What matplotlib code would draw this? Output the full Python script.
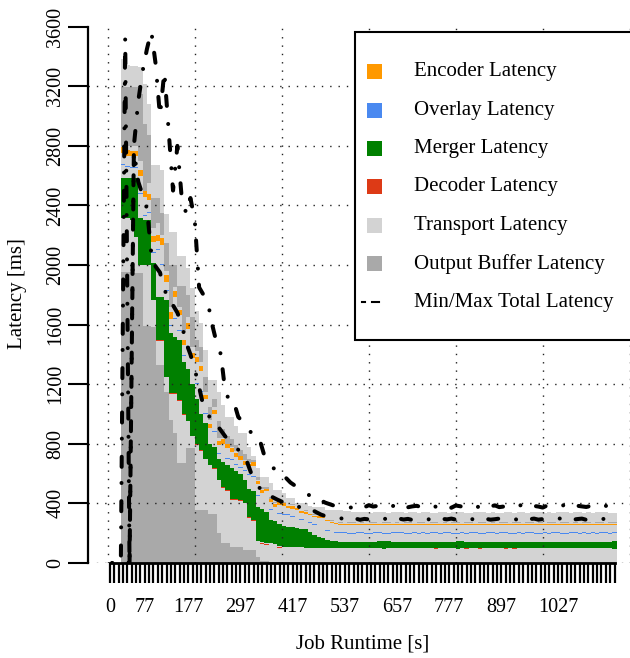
import numpy as np
import matplotlib
matplotlib.use("Agg")
import matplotlib.pyplot as plt
from matplotlib.patches import Rectangle
from matplotlib.lines import Line2D

# ─── Data (ms) per time bucket, stacked bottom → top ─────────────────
# levels are cumulative latency at the start of each stage
buf_lvl = [0, 0, 0, 1955, 1955, 1955, 1950, 1950, 1590, 1590,
           1586, 1329, 1329, 1150, 960, 872, 671, 671, 772, 772,
           356, 356, 356, 330, 330, 201, 134, 134, 109, 109,
           109, 87, 87, 87, 42, 15, 12, 10, 10, 8,
           8, 6, 5, 5, 4, 4, 3, 3, 3, 0,
           0, 0, 0, 0, 0, 0, 0, 0, 0, 0,
           0, 0, 0, 0, 0, 0, 0, 0, 0, 0,
           0, 0, 0, 0, 0, 0, 0, 0, 0, 0,
           0, 0, 0, 0, 0, 0, 0, 0, 0, 0,
           0, 0, 0, 0, 0, 0, 0, 0, 0, 0,
           0, 0, 0, 0, 0, 0, 0, 0, 0, 0,
           0, 0, 0, 0, 0, 0, 0]
dec_lvl = [0, 0, 0, 2310, 2310, 2297, 2185, 1995, 1995, 1995,
           1760, 1492, 1492, 1243, 1136, 1136, 1089, 995, 945, 845,
           795, 755, 695, 655, 630, 555, 505, 485, 425, 425,
           418, 395, 304, 285, 145, 130, 124, 122, 113, 104,
           98, 94, 93, 92, 92, 91, 92, 91, 92, 92,
           91, 92, 91, 92, 92, 91, 92, 92, 91, 92,
           92, 91, 92, 92, 91, 92, 92, 91, 92, 92,
           92, 91, 92, 92, 91, 92, 92, 91, 92, 92,
           91, 92, 92, 91, 92, 92, 91, 92, 92, 91,
           92, 92, 91, 92, 92, 91, 92, 92, 91, 92,
           92, 91, 92, 92, 91, 92, 92, 91, 92, 92,
           91, 92, 92, 91, 92, 92, 91]
dec_ms = [0, 0, 0, 2, 2, 2, 2, 2, 2, 2,
          2, 2, 2, 2, 2, 2, 2, 2, 2, 2,
          2, 2, 2, 2, 8, 2, 2, 2, 2, 2,
          2, 2, 8, 2, 2, 2, 2, 2, 2, 2,
          2, 0, 0, 0, 0, 0, 0, 0, 0, 0,
          0, 0, 0, 0, 0, 0, 0, 0, 0, 0,
          0, 0, 0, 0, 0, 0, 0, 0, 0, 0,
          0, 0, 0, 0, 6, 6, 0, 6, 0, 0,
          0, 0, 6, 6, 0, 6, 0, 0, 0, 0,
          0, 6, 0, 6, 0, 0, 0, 0, 0, 0,
          0, 0, 0, 0, 0, 0, 0, 0, 0, 0,
          0, 0, 0, 0, 0, 0, 0]
mer_lo = [0, 0, 0, 2315, 2315, 2302, 2190, 2000, 2000, 2000,
          1765, 1497, 1497, 1248, 1141, 1141, 1094, 1000, 950, 850,
          800, 760, 700, 660, 640, 560, 510, 490, 430, 430,
          423, 400, 312, 290, 150, 140, 134, 134, 125, 115,
          110, 108, 107, 106, 105, 104, 103, 102, 101, 100,
          99, 100, 98, 98, 100, 99, 101, 100, 99, 98,
          100, 101, 99, 97, 100, 99, 100, 98, 99, 101,
          100, 99, 98, 100, 101, 99, 100, 99, 98, 100,
          97, 98, 100, 99, 101, 100, 99, 98, 100, 99,
          100, 101, 99, 100, 98, 99, 100, 101, 100, 99,
          98, 100, 99, 100, 101, 99, 98, 100, 99, 100,
          101, 99, 100, 98, 99, 100, 97]
mer_hi = [0, 0, 0, 2584, 2584, 2584, 2584, 2315, 2302, 2302,
          2013, 1785, 1785, 1765, 1544, 1520, 1497, 1350, 1300, 1200,
          1100, 1000, 940, 800, 780, 700, 680, 660, 640, 620,
          600, 560, 500, 480, 376, 360, 340, 290, 280, 260,
          250, 245, 240, 235, 230, 225, 210, 190, 174, 165,
          154, 150, 145, 141, 142, 140, 141, 143, 141, 140,
          142, 141, 150, 151, 149, 141, 140, 142, 141, 140,
          141, 142, 140, 141, 143, 141, 140, 141, 142, 141,
          150, 150, 142, 141, 140, 141, 142, 141, 140, 141,
          142, 141, 140, 141, 142, 143, 141, 140, 141, 142,
          141, 140, 142, 141, 140, 141, 143, 142, 141, 140,
          141, 142, 141, 140, 141, 142, 146]
ovl_lvl = [0, 0, 0, 2670, 2660, 2650, 2650, 2480, 2330, 2350,
           2080, 2100, 2000, 1827, 1590, 1640, 1560, 1390, 1450, 1300,
           1200, 1150, 1000, 850, 880, 732, 730, 700, 690, 658,
           640, 620, 590, 579, 450, 420, 400, 356, 340, 330,
           325, 322, 310, 300, 290, 280, 270, 255, 240, 225,
           215, 205, 200, 199, 201, 198, 197, 199, 200, 198,
           197, 199, 200, 198, 196, 199, 200, 201, 198, 197,
           199, 198, 200, 197, 199, 201, 198, 199, 200, 198,
           197, 199, 198, 200, 199, 198, 197, 199, 200, 198,
           199, 200, 198, 197, 199, 198, 200, 199, 198, 197,
           199, 198, 200, 199, 197, 198, 199, 200, 198, 199,
           198, 199, 197, 200, 199, 198, 199]
ovl_ms = [0, 0, 0, 5, 5, 5, 5, 5, 5, 5,
          5, 5, 5, 5, 5, 5, 5, 5, 5, 5,
          5, 5, 5, 5, 5, 5, 5, 5, 5, 5,
          5, 5, 5, 5, 5, 5, 5, 5, 5, 5,
          5, 5, 5, 5, 5, 5, 5, 5, 5, 5,
          6, 6, 6, 6, 6, 6, 6, 6, 6, 6,
          6, 6, 6, 6, 6, 6, 6, 6, 6, 6,
          6, 6, 6, 6, 6, 6, 6, 6, 6, 6,
          6, 6, 6, 6, 6, 6, 6, 6, 6, 6,
          6, 6, 6, 6, 6, 6, 6, 6, 6, 6,
          6, 6, 6, 6, 6, 6, 6, 6, 6, 6,
          6, 6, 6, 6, 6, 6, 6]
enc_lvl = [0, 0, 0, 2750, 2735, 2730, 2730, 2600, 2456, 2440,
           2157, 2160, 2134, 1888, 1640, 1787, 1665, 1463, 1570, 1376,
           1350, 1290, 1100, 906, 1000, 792, 800, 770, 745, 711,
           690, 660, 638, 650, 530, 470, 480, 410, 376, 390,
           382, 369, 365, 356, 336, 330, 320, 309, 305, 300,
           285, 270, 262, 258, 256, 257, 255, 256, 258, 257,
           256, 255, 257, 256, 258, 256, 255, 257, 256, 255,
           257, 256, 255, 258, 256, 257, 256, 255, 257, 256,
           255, 257, 256, 258, 255, 256, 257, 255, 256, 258,
           256, 255, 257, 256, 255, 258, 256, 257, 255, 256,
           257, 256, 255, 256, 258, 257, 256, 255, 257, 256,
           255, 256, 257, 256, 255, 257, 256]
enc_ms = [0, 0, 0, 40, 35, 35, 35, 40, 42, 40,
          40, 40, 45, 45, 45, 42, 35, 35, 40, 35,
          35, 35, 30, 30, 30, 30, 30, 30, 30, 30,
          28, 28, 28, 28, 22, 20, 20, 20, 20, 18,
          18, 15, 15, 12, 12, 10, 10, 8, 8, 8,
          7, 7, 7, 6, 7, 6, 7, 7, 6, 7,
          7, 6, 7, 7, 6, 7, 7, 6, 7, 7,
          6, 7, 7, 6, 7, 7, 6, 7, 7, 6,
          7, 7, 6, 7, 7, 6, 7, 7, 6, 7,
          7, 6, 7, 7, 6, 7, 7, 6, 7, 7,
          6, 7, 7, 6, 7, 7, 6, 7, 7, 6,
          7, 7, 6, 7, 7, 6, 7]
buf2_lvl = [0, 0, 0, 2800, 2800, 2800, 2800, 2700, 2500, 2550,
            2250, 2280, 2200, 1960, 1720, 1850, 1720, 1550, 1650, 1450,
            1420, 1350, 1150, 960, 1050, 840, 840, 800, 780, 750,
            720, 690, 670, 680, 560, 500, 500, 430, 400, 410,
            405, 395, 390, 380, 360, 350, 340, 325, 320, 315,
            300, 285, 275, 270, 268, 270, 269, 268, 270, 268,
            269, 270, 268, 269, 270, 268, 269, 268, 270, 269,
            268, 270, 269, 268, 270, 269, 268, 270, 268, 269,
            270, 268, 269, 270, 268, 269, 270, 268, 269, 268,
            270, 269, 268, 270, 269, 268, 270, 269, 268, 270,
            268, 269, 270, 268, 269, 270, 268, 269, 268, 270,
            269, 268, 270, 269, 268, 270, 269]
buf2_ms = [0, 0, 0, 397, 397, 397, 397, 450, 450, 322,
           200, 170, 150, 190, 280, 150, 140, 310, 150, 200,
           80, 100, 100, 90, 50, 110, 60, 50, 50, 40,
           40, 40, 30, 10, 20, 10, 10, 10, 10, 10,
           5, 3, 3, 3, 3, 3, 3, 3, 3, 3,
           3, 3, 3, 3, 3, 3, 3, 3, 3, 3,
           3, 3, 3, 3, 3, 3, 3, 3, 3, 3,
           3, 3, 3, 3, 3, 3, 3, 3, 3, 3,
           3, 3, 3, 3, 3, 3, 3, 3, 3, 3,
           3, 3, 3, 3, 3, 3, 3, 3, 3, 3,
           3, 3, 3, 3, 3, 3, 3, 3, 3, 3,
           3, 3, 3, 3, 3, 3, 3]
total = [0, 0, 0, 3380, 3345, 3338, 3338, 3331, 3215, 3080,
         2670, 2670, 2638, 2342, 2224, 2224, 2060, 2060, 1980, 1845,
         1690, 1610, 1430, 1228, 1228, 1150, 1060, 982, 982, 921,
         872, 872, 780, 720, 637, 579, 579, 537, 490, 490,
         470, 436, 436, 405, 405, 405, 380, 378, 378, 378,
         356, 356, 356, 356, 350, 348, 345, 342, 340, 344,
         338, 342, 345, 340, 336, 341, 344, 339, 337, 342,
         340, 336, 343, 341, 338, 335, 342, 340, 337, 344,
         345, 341, 338, 336, 340, 343, 339, 337, 341, 338,
         336, 342, 340, 338, 344, 341, 337, 339, 343, 340,
         338, 341, 336, 340, 343, 339, 337, 342, 340, 338,
         341, 337, 340, 343, 339, 336, 338]
max_total = [0, 0, 0, 3520, 0, 2800, 3100, 3300, 3450, 3570,
             3350, 3000, 3300, 2900, 2500, 2800, 2450, 2350, 2450, 2300,
             1850, 1800, 1750, 1600, 1480, 1400, 1150, 1090, 1080, 980,
             950, 930, 870, 850, 820, 720, 680, 640, 610, 590,
             570, 540, 520, 500, 480, 460, 445, 436, 420, 405,
             395, 385, 378, 380, 376, 372, 385, 380, 374, 388,
             379, 383, 375, 371, 386, 381, 377, 389, 374, 380,
             384, 376, 372, 387, 380, 375, 383, 378, 371, 386,
             381, 374, 388, 379, 376, 384, 372, 380, 387, 375,
             379, 385, 373, 381, 388, 376, 374, 383, 379, 372,
             386, 380, 375, 382, 389, 377, 373, 384, 380, 376,
             383, 378, 372, 386, 381, 375, 380]
min_total = [0, 0, 0, 0, 0, 2770, 2560, 2470, 2380, 2080,
             1990, 1950, 1830, 1790, 1730, 1680, 1600, 1480, 1400, 1300,
             1180, 1050, 1000, 950, 930, 890, 850, 820, 790, 760,
             730, 680, 600, 540, 500, 485, 460, 440, 425, 412,
             403, 395, 385, 376, 370, 362, 356, 340, 325, 315,
             309, 305, 302, 298, 295, 292, 298, 290, 296, 293,
             299, 291, 295, 297, 290, 294, 298, 292, 296, 289,
             295, 299, 291, 294, 297, 290, 296, 293, 298, 291,
             294, 297, 290, 295, 299, 292, 296, 291, 294, 298,
             290, 295, 297, 292, 296, 289, 294, 298, 291, 295,
             297, 290, 294, 299, 292, 296, 291, 295, 298, 290,
             294, 297, 291, 296, 293, 290, 295]

tick_idx = [0, 8, 18, 30, 42, 54, 66, 78, 90, 103]
tick_txt = ["0", "77", "177", "297", "417", "537", "657", "777", "897", "1027"]

# ─── Style ────────────────────────────────────────────────────────────
C_ENC, C_OVL, C_MER = "#FF9900", "#4A89F0", "#008000"
C_DEC, C_TR, C_OB = "#DD3A16", "#D3D3D3", "#A9A9A9"
W, H, DPI = 630, 658, 100

plt.rcParams["font.family"] = ["Liberation Serif", "DejaVu Serif"]


def px(x, y):
    """pixel position (from top-left) → figure fraction"""
    return x / W, 1 - y / H


fig = plt.figure(figsize=(W / DPI, H / DPI), dpi=DPI)
ax = fig.add_axes([88 / W, (H - 563) / H, 550 / W, (563 - 26.7) / H])
ax.set_xlim(-4.55, 121.9)
ax.set_ylim(0, 3600)

n = len(total)
x = np.arange(n) + 0.5
lv = {k: np.asarray(v, dtype=float) for k, v in dict(
    buf=buf_lvl, dec=dec_lvl, decm=dec_ms, mlo=mer_lo, mhi=mer_hi, ovl=ovl_lvl,
    ovlm=ovl_ms, enc=enc_lvl, encm=enc_ms, b2=buf2_lvl, b2m=buf2_ms, tot=total).items()}

segments = [
    (np.zeros(n), lv["buf"], C_OB),
    (lv["buf"], lv["dec"], C_TR),
    (lv["dec"], lv["dec"] + lv["decm"], C_DEC),
    (lv["dec"] + lv["decm"], lv["mlo"], C_TR),
    (lv["mlo"], lv["mhi"], C_MER),
    (lv["mhi"], lv["ovl"], C_TR),
    (lv["ovl"], lv["ovl"] + lv["ovlm"], C_OVL),
    (lv["ovl"] + lv["ovlm"], lv["enc"], C_TR),
    (lv["enc"], lv["enc"] + lv["encm"], C_ENC),
    (lv["enc"] + lv["encm"], lv["b2"], C_TR),
    (lv["b2"], lv["b2"] + lv["b2m"], C_OB),
    (lv["b2"] + lv["b2m"], lv["tot"], C_TR),
]
for lo, hi, col in segments:
    ax.bar(x, np.clip(hi - lo, 0, None), bottom=lo, width=1.0, color=col,
           linewidth=0, antialiased=False, zorder=1)

# dotted grid on top of the bars
for u in range(0, 121, 20):
    ax.axvline(u, color="#222222", lw=1.0, linestyle=(0, (1, 5)), zorder=2)
for v in range(0, 3600, 400):
    ax.axhline(v, color="#222222", lw=1.0, linestyle=(0, (1, 5)), zorder=2)

# min / max total latency
xl = np.arange(n) + 1.0
for series in (max_total, min_total):
    ax.plot(xl, series, color="black", lw=2.9, linestyle=(0, (0.01, 4, 2.5, 4.5)),
            dash_capstyle="round", zorder=3)

# axes
for s in ("top", "right"):
    ax.spines[s].set_visible(False)
ax.spines["left"].set_bounds(0, 3600)
ax.spines["bottom"].set_bounds(0.5, n - 0.5)
ax.spines["left"].set_linewidth(1.6)
ax.spines["bottom"].set_linewidth(2.0)
ax.spines["bottom"].set_zorder(4)

labels = [""] * n
for i, t in zip(tick_idx, tick_txt):
    labels[i] = t
ax.set_xticks(x, labels)
ax.tick_params(axis="x", length=14.4, width=1.6, pad=11, labelsize=14.5)
ax.set_yticks(range(0, 3601, 400))
ax.tick_params(axis="y", length=14.4, width=1.5, pad=2, labelsize=14.5, labelrotation=90)
for lab in ax.get_yticklabels():
    lab.set_va("center")

fig.text(*px(363, 644), "Job Runtime [s]", ha="center", va="center", fontsize=15)
fig.text(*px(18, 294), "Latency [ms]", ha="center", va="center", rotation=90, fontsize=15)

# legend box
x0, y0 = px(355, 340)
fig.add_artist(Rectangle((x0, y0), 400 / W, 308 / H, transform=fig.transFigure,
                         facecolor="white", edgecolor="black", lw=1.5, zorder=5))
entries = [("Encoder Latency", C_ENC), ("Overlay Latency", C_OVL),
           ("Merger Latency", C_MER), ("Decoder Latency", C_DEC),
           ("Transport Latency", C_TR), ("Output Buffer Latency", C_OB)]
for i, (name, col) in enumerate(entries):
    yc = 71.7 + 38.4 * i
    fig.add_artist(Rectangle(px(367, yc + 7.5), 15 / W, 15 / H, transform=fig.transFigure,
                             facecolor=col, edgecolor="none", zorder=6))
    fig.text(*px(414, yc), name, ha="left", va="center", fontsize=15, zorder=6)
yc = 71.7 + 38.4 * 6
fig.add_artist(Line2D([362.5 / W, 364.5 / W], [1 - yc / H] * 2, transform=fig.transFigure,
                      color="black", lw=1.5, zorder=6))
fig.add_artist(Line2D([371.5 / W, 378.5 / W], [1 - yc / H] * 2, transform=fig.transFigure,
                      color="black", lw=1.5, zorder=6))
fig.text(*px(414, yc), "Min/Max Total Latency", ha="left", va="center", fontsize=15, zorder=6)

fig.savefig("out.png", dpi=DPI)
